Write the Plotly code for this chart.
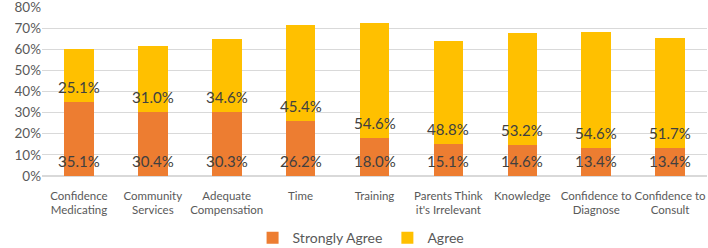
import plotly.graph_objects as go

categories = ["Confidence<br>Medicating", "Community<br>Services", "Adequate<br>Compensation", "Time", "Training",
              "Parents Think<br>it's Irrelevant", "Knowledge", "Confidence to<br>Diagnose", "Confidence to<br>Consult"]
strongly_agree = [35.1, 30.4, 30.3, 26.2, 18.0, 15.1, 14.6, 13.4, 13.4]
agree = [25.1, 31.0, 34.6, 45.4, 54.6, 48.8, 53.2, 54.6, 51.7]
y_ticks = [0, 10, 20, 30, 40, 50, 60, 70, 80]

FONT = "Lato, Open Sans, sans-serif"

fig = go.Figure()
fig.add_trace(go.Bar(x=categories, y=strongly_agree, name="Strongly Agree",
                     marker=dict(color="#ED7D31", line=dict(width=0))))
fig.add_trace(go.Bar(x=categories, y=agree, name="Agree",
                     marker=dict(color="#FFC000", line=dict(width=0))))

# data labels near the base of each segment
for c, s, a in zip(categories, strongly_agree, agree):
    fig.add_annotation(x=c, y=0, yshift=15, text=f"{s:.1f}%", showarrow=False,
                       font=dict(family=FONT, size=15, color="#404040"), yanchor="middle")
    fig.add_annotation(x=c, y=s, yshift=15, text=f"{a:.1f}%", showarrow=False,
                       font=dict(family=FONT, size=15, color="#404040"), yanchor="middle")

fig.update_layout(
    barmode="stack",
    bargap=0.6,
    width=708, height=248,
    margin=dict(l=42, r=1, t=7, b=72, autoexpand=False),
    paper_bgcolor="white", plot_bgcolor="white",
    font=dict(family=FONT, color="#595959"),
    showlegend=True,
    legend=dict(orientation="h", xref="container", yref="container", x=0.51, y=0.04,
                xanchor="center", yanchor="middle", font=dict(size=14, color="#595959"),
                traceorder="normal", itemwidth=30, tracegroupgap=0),
    xaxis=dict(showgrid=False, showline=False, ticks="", tickangle=0, automargin=False,
               ticklabelstandoff=11,
               ticklabeloverflow="allow", tickfont=dict(size=11.5, color="#595959")),
    yaxis=dict(range=[0, 80], tickvals=y_ticks, ticktext=[f"{v}%" for v in y_ticks], automargin=False,
               ticklabeloverflow="allow",
               showgrid=True, gridcolor="#D9D9D9", gridwidth=1, zeroline=True, zerolinecolor="#D9D9D9",
               showline=False, ticks="", tickfont=dict(size=13.5, color="#595959")),
)

fig.write_html("out.html", config={"displayModeBar": False},
               post_script="document.body.style.margin='0';document.body.style.overflow='hidden';")
